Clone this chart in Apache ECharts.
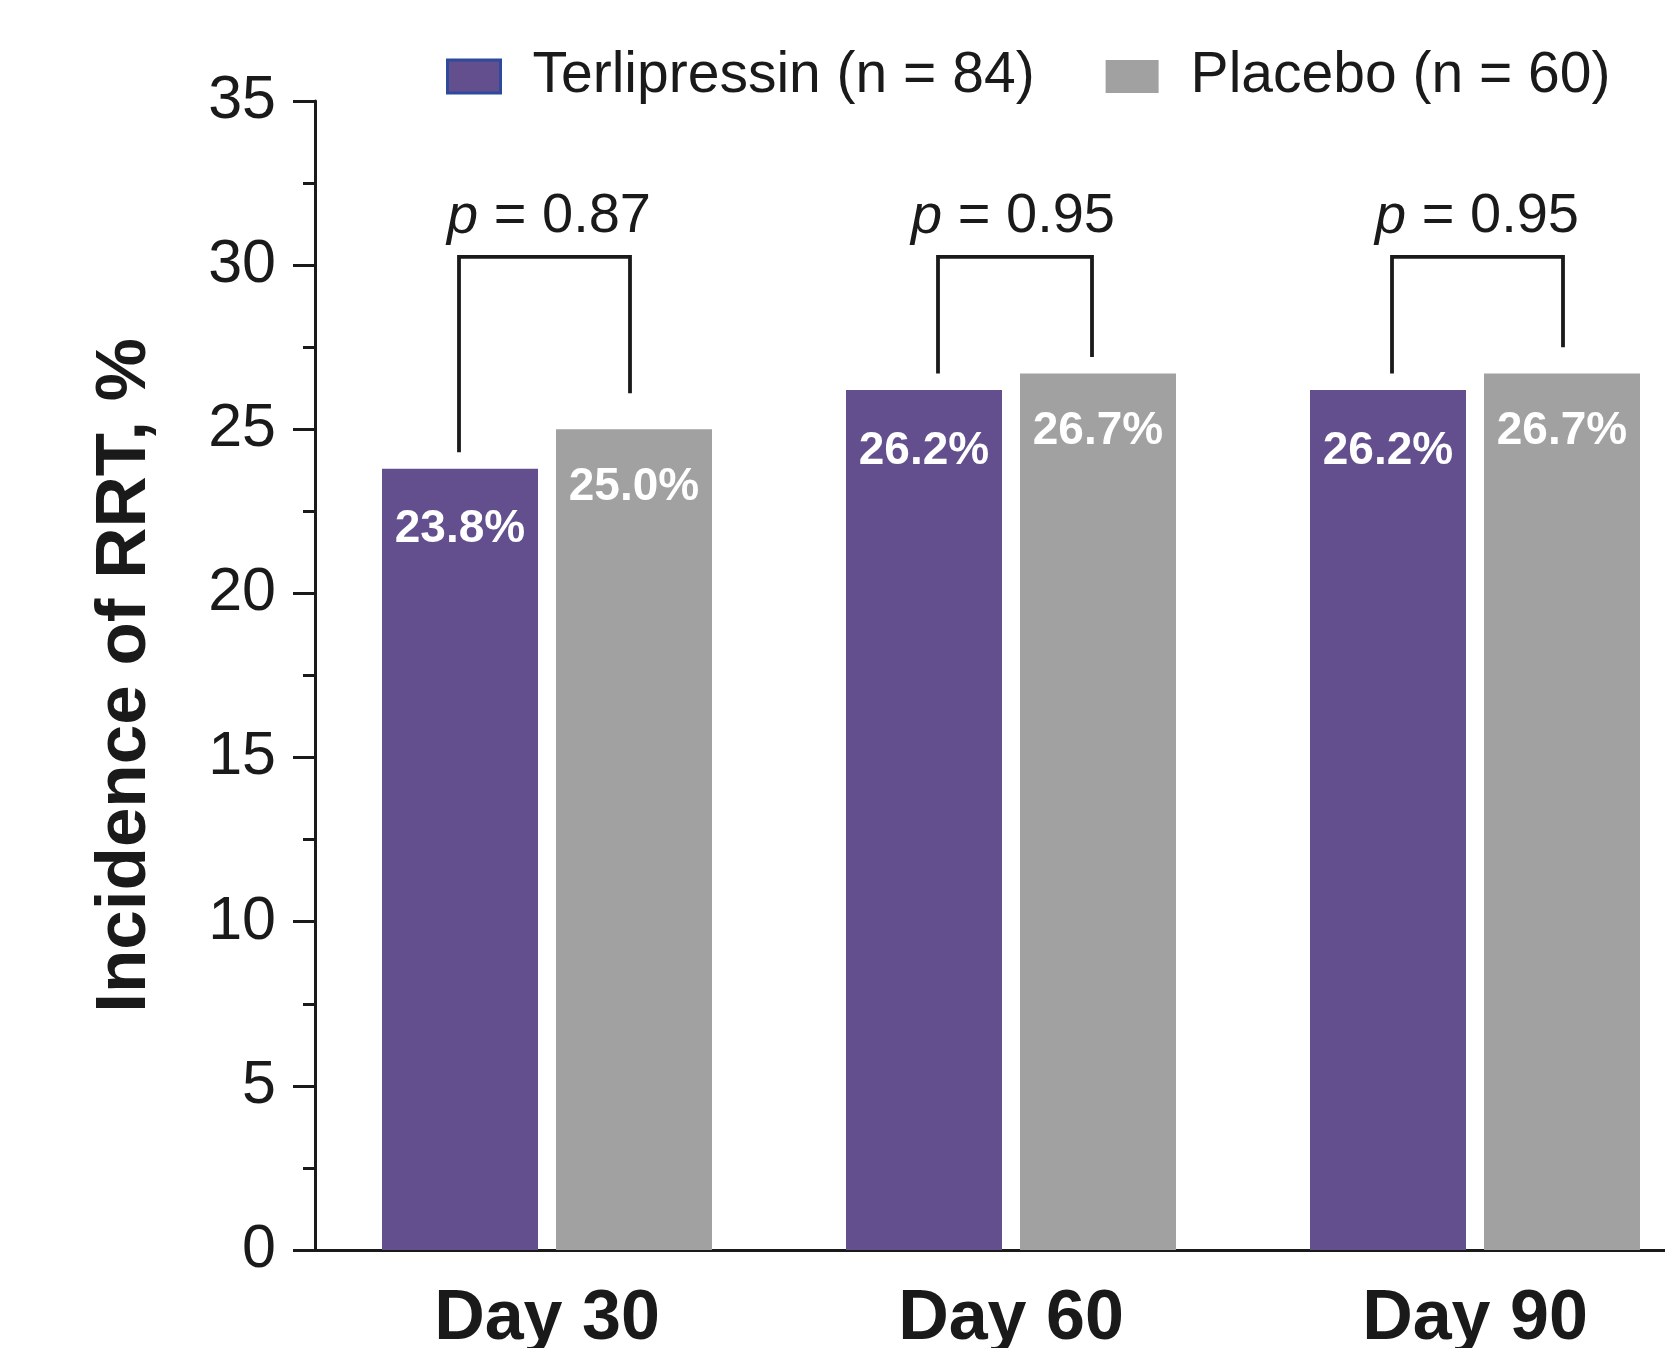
<!DOCTYPE html>
<html>
<head>
<meta charset="utf-8">
<script src="https://cdn.jsdelivr.net/npm/echarts@6/dist/echarts.min.js"></script>
<style>
html,body{margin:0;padding:0;background:#fff;}
#chart{width:1665px;height:1348px;}
</style>
</head>
<body>
<div id="chart"></div>
<script>
// ---- data ----
const categories = ['Day 30', 'Day 60', 'Day 90'];
const seriesNames = ['Terlipressin (n = 84)', 'Placebo (n = 60)'];
const terlipressin = [23.8, 26.2, 26.2];
const placebo = [25.0, 26.7, 26.7];
const pValues = ['0.87', '0.95', '0.95'];
// bracket ends (value units): left foot, right foot, top bar
const bracketLeft = [24.3, 26.7, 26.7];
const bracketRight = [26.1, 27.2, 27.5];
const bracketTop = [30.25, 30.25, 30.25];
const yTicks = { min: 0, max: 35, interval: 5 };

// ---- styles ----
const FONT = '"Liberation Sans", Arial, Helvetica, sans-serif';
const PURPLE = '#634f8e';
const GREY = '#a1a1a1';
const INK = '#1a1a1a';
const BAR_W = 156;
const BAR_GAP_PX = 18;
// horizontal pixel offsets of bracket feet from the category centre
const BRACKET_FEET_PX = [[-88, 83], [-73, 81], [-83, 88]];

const bracketData = categories.map((c, i) => [i, bracketLeft[i], bracketRight[i], bracketTop[i]]);

const chart = echarts.init(document.getElementById('chart'), null, { renderer: 'canvas' });
chart.setOption({
  animation: false,
  backgroundColor: '#fff',
  grid: { left: 315, top: 101, bottom: 98, width: 1392, containLabel: false, outerBoundsMode: 'none' },
  legend: {
    left: 441, top: 43,
    itemWidth: 53, itemHeight: 33, itemGap: 71,
    icon: 'rect',
    textStyle: { fontSize: 57, fontFamily: FONT, color: INK, padding: [0, 0, 0, 27] },
    data: [
      { name: seriesNames[0], itemStyle: { color: PURPLE, borderColor: '#2d4a9c', borderWidth: 3 } },
      { name: seriesNames[1], itemStyle: { color: GREY, borderWidth: 0 } }
    ]
  },
  xAxis: {
    type: 'category',
    data: categories,
    axisLine: { lineStyle: { color: INK, width: 3 } },
    axisTick: { alignWithLabel: true, length: 19, lineStyle: { color: INK, width: 3 } },
    axisLabel: { fontSize: 70, fontWeight: 'bold', fontFamily: FONT, color: INK, margin: 35 },
    splitLine: { show: false }
  },
  yAxis: {
    type: 'value',
    min: yTicks.min, max: yTicks.max, interval: yTicks.interval,
    name: 'Incidence of RRT, %',
    nameLocation: 'middle',
    nameGap: 154,
    nameTextStyle: { fontSize: 71, fontWeight: 'bold', fontFamily: FONT, color: INK },
    axisLine: { show: true, lineStyle: { color: INK, width: 3 } },
    axisTick: { show: true, length: 22, lineStyle: { color: INK, width: 3 } },
    minorTick: { show: true, splitNumber: 2, length: 12, lineStyle: { color: INK, width: 3 } },
    axisLabel: { fontSize: 61, fontFamily: FONT, color: INK, margin: 39 },
    splitLine: { show: false }
  },
  series: [
    {
      name: seriesNames[0], type: 'bar', data: terlipressin,
      barWidth: BAR_W, barGap: (BAR_GAP_PX / BAR_W * 100) + '%',
      itemStyle: { color: PURPLE },
      label: { show: true, position: 'insideTop', distance: 38, formatter: p => p.value.toFixed(1) + '%',
        color: '#fff', fontSize: 46, fontWeight: 'bold', fontFamily: FONT }
    },
    {
      name: seriesNames[1], type: 'bar', data: placebo,
      barWidth: BAR_W,
      itemStyle: { color: GREY },
      label: { show: true, position: 'insideTop', distance: 35, formatter: p => p.value.toFixed(1) + '%',
        color: '#fff', fontSize: 46, fontWeight: 'bold', fontFamily: FONT }
    },
    {
      type: 'custom',
      data: bracketData,
      silent: true,
      z: 10,
      renderItem: function (params, api) {
        const i = api.value(0);
        const top = api.coord([i, api.value(3)]);
        const l = api.coord([i, api.value(1)]);
        const r = api.coord([i, api.value(2)]);
        const feet = BRACKET_FEET_PX[params.dataIndex];
        const xl = top[0] + feet[0], xr = top[0] + feet[1];
        return {
          type: 'group',
          children: [
            { type: 'polyline', shape: { points: [[xl, l[1]], [xl, top[1]], [xr, top[1]], [xr, r[1]]] },
              style: { stroke: INK, lineWidth: 3.8, fill: null } },
            { type: 'text', style: {
                text: '{i|p}{n| = ' + pValues[params.dataIndex] + '}',
                x: top[0] + 2, y: top[1] - 12, align: 'center', verticalAlign: 'bottom',
                rich: {
                  i: { fontSize: 56, fontStyle: 'italic', fontFamily: FONT, fill: INK },
                  n: { fontSize: 56, fontFamily: FONT, fill: INK }
                }
              } }
          ]
        };
      }
    }
  ]
});
</script>
</body>
</html>
